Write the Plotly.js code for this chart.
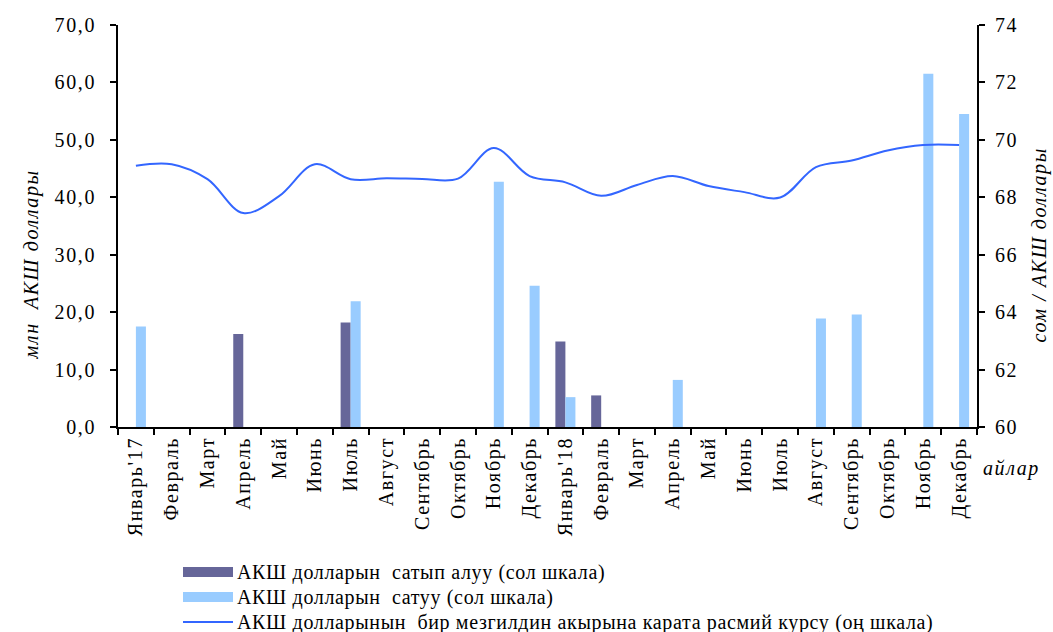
<!DOCTYPE html>
<html>
<head>
<meta charset="utf-8">
<script src="https://cdn.plot.ly/plotly-3.0.1.min.js"></script>
<style>
html,body{margin:0;padding:0;background:#fff;}
#chart{width:1053px;height:632px;}
svg text{letter-spacing:1.6px;}
g.annotation[data-index="0"] text, g.annotation[data-index="1"] text, g.annotation[data-index="2"] text{letter-spacing:0.65px;}
</style>
</head>
<body>
<div id="chart"></div>
<script>
const months = ["Январь'17","Февраль","Март","Апрель","Май","Июнь","Июль","Август","Сентябрь","Октябрь","Ноябрь","Декабрь",
  "Январь'18","Февраль","Март","Апрель","Май","Июнь","Июль","Август","Сентябрь","Октябрь","Ноябрь","Декабрь"];
const purchase = [null,null,null,16.2,null,null,18.2,null,null,null,null,null,
  14.9,5.5,null,null,null,null,null,null,null,null,null,null];
const sale = [17.5,null,null,null,null,null,21.9,null,null,null,42.7,24.6,
  5.2,null,null,8.2,null,null,null,18.9,19.6,null,61.5,54.5];
const rate = [69.10,69.15,68.63,67.45,68.04,69.15,68.63,68.66,68.64,68.65,69.72,68.74,
  68.52,68.05,68.43,68.74,68.39,68.18,67.99,69.05,69.28,69.63,69.82,69.82];
const leftTicks = [0,10,20,30,40,50,60,70];
const rightTicks = [60,62,64,66,68,70,72,74];
const seriesNames = ["АКШ долларын  сатып алуу (сол шкала)","АКШ долларын  сатуу (сол шкала)",
  "АКШ долларынын  бир мезгилдин акырына карата расмий курсу (оң шкала)"];
const colors = ["#666699","#99ccff","#3366ff"];

const W = 1053, H = 632, M = {l:118, r:76, t:25, b:205};
const PW = W - M.l - M.r, PH = H - M.t - M.b;
const px = x => (x - M.l) / PW;
const py = y => (H - M.b - y) / PH;

const xs = months.map((_, i) => i);
const FONT = "Liberation Serif";
const FS = 20;

const traces = [
  {type:'bar', x:xs, y:purchase, name:seriesNames[0], marker:{color:colors[0]}, showlegend:false},
  {type:'bar', x:xs, y:sale, name:seriesNames[1], marker:{color:colors[1]}, showlegend:false},
  {type:'scatter', mode:'lines', x:xs, y:rate, yaxis:'y2', name:seriesNames[2],
   line:{color:colors[2], width:2, shape:'spline', smoothing:1}, showlegend:false}
];

const shapes = [], annotations = [];
const legendRows = [572, 597, 622];
legendRows.forEach((yy, i) => {
  if (i < 2) {
    shapes.push({type:'rect', xref:'paper', yref:'paper', x0:px(183), x1:px(233), y0:py(yy-5), y1:py(yy+5),
      fillcolor:colors[i], line:{width:0}});
  } else {
    shapes.push({type:'line', xref:'paper', yref:'paper', x0:px(183), x1:px(233), y0:py(yy), y1:py(yy),
      line:{color:colors[i], width:2}});
  }
  annotations.push({xref:'paper', yref:'paper', x:px(235), y:py(yy), xanchor:'left', yanchor:'middle', align:'left',
    text:seriesNames[i], showarrow:false, font:{family:FONT, size:FS, color:'#000'}});
});
annotations.push({xref:'paper', yref:'paper', x:px(17), y:py(265), textangle:-90, showarrow:false,
  text:'<i>млн  АКШ доллары</i>', font:{family:FONT, size:FS, color:'#000'}});
annotations.push({xref:'paper', yref:'paper', x:px(1053), y:py(245), textangle:-90, showarrow:false,
  text:'<i>сом / АКШ доллары</i>', font:{family:FONT, size:FS, color:'#000'}});
annotations.push({xref:'paper', yref:'paper', x:px(981), y:py(482), xanchor:'left', align:'left', showarrow:false,
  text:'<i>айлар</i>', font:{family:FONT, size:FS, color:'#000'}});

const layout = {
  width:W, height:H, margin:M,
  paper_bgcolor:'#fff', plot_bgcolor:'#fff',
  font:{family:FONT, size:FS, color:'#000'},
  separators:', ',
  barmode:'group', bargap:0.44, bargroupgap:0,
  showlegend:false,
  xaxis:{type:'linear', range:[-0.5, months.length-0.5], tickmode:'array', tickvals:xs, ticktext:months,
    tickangle:-90, ticks:'', showline:true, linecolor:'#000', linewidth:2, showgrid:false, zeroline:false,
    tickfont:{family:FONT, size:FS},
    minor:{ticks:'outside', ticklen:6, tickwidth:2, tickcolor:'#000', tick0:-0.5, dtick:1, showgrid:false}},
  yaxis:{range:[0,70], tickmode:'array', tickvals:leftTicks, tickformat:'.1f', ticks:'outside', ticklen:6, tickwidth:2,
    tickcolor:'#000', showline:true, linecolor:'#000', linewidth:2, showgrid:false, zeroline:false,
    ticklabelstandoff:10, tickfont:{family:FONT, size:FS}},
  yaxis2:{overlaying:'y', side:'right', range:[60,74], tickmode:'array', tickvals:rightTicks, ticks:'outside',
    ticklen:6, tickwidth:2, tickcolor:'#000', showline:true, linecolor:'#000', linewidth:2, showgrid:false,
    zeroline:false, ticklabelstandoff:6, tickfont:{family:FONT, size:FS}},
  shapes:shapes, annotations:annotations
};
Plotly.newPlot('chart', traces, layout, {displayModeBar:false, staticPlot:true});
</script>
</body>
</html>
